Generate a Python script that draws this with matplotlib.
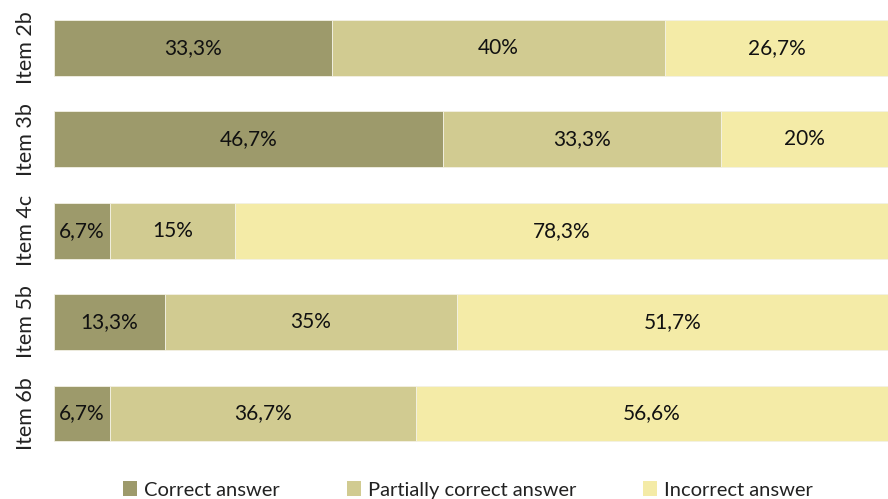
import numpy as np
import matplotlib
matplotlib.use("Agg")
import matplotlib.pyplot as plt
from matplotlib.patches import Patch

plt.rcParams['font.family'] = ['Lato', 'DejaVu Sans']

items = ["Item 2b", "Item 3b", "Item 4c", "Item 5b", "Item 6b"]
correct = [33.3, 46.7, 6.7, 13.3, 6.7]
partial = [40, 33.3, 15, 35, 36.7]
incorrect = [26.7, 20, 78.3, 51.7, 56.6]

series_names = ["Correct answer", "Partially correct answer", "Incorrect answer"]
colors = ["#9d9a6b", "#d1cb91", "#f4eba7"]


def pct(v):
    s = ("%g" % v).replace(".", ",")
    return s + "%"


fig = plt.figure(figsize=(8.88, 4.99), dpi=100)
ax = fig.add_axes([0.0608, 0.080, 0.9392, 0.9155])

y = np.arange(len(items))
left = np.zeros(len(items))
for vals, name, col in zip([correct, partial, incorrect], series_names, colors):
    vals = np.array(vals, dtype=float)
    ax.barh(y, vals, left=left, height=0.61, color=col, edgecolor="#f3f1e4",
            linewidth=0.6, label=name)
    for yi, l, v in zip(y, left, vals):
        ax.text(l + v / 2, yi, pct(v), ha="center", va="center",
                fontsize=15, color="#111111")
    left += vals

ax.set_xlim(0, 100)
ax.set_ylim(len(items) - 0.5, -0.5)
ax.set_yticks(y)
ax.set_yticklabels(items, rotation=90, va="center", fontsize=15.5, color="#222222")
ax.tick_params(axis="y", length=0, pad=13)
ax.set_xticks([])
for s in ax.spines.values():
    s.set_visible(False)

handles = [Patch(facecolor=c, edgecolor="none") for c in colors]
fig.legend(handles, series_names, loc="center", bbox_to_anchor=(0.527, 0.018),
           ncol=3, frameon=False, fontsize=14.5, handlelength=0.7, handleheight=0.7,
           handletextpad=0.35, columnspacing=3.3, labelcolor="#222222")

fig.savefig("out.png", dpi=100)
